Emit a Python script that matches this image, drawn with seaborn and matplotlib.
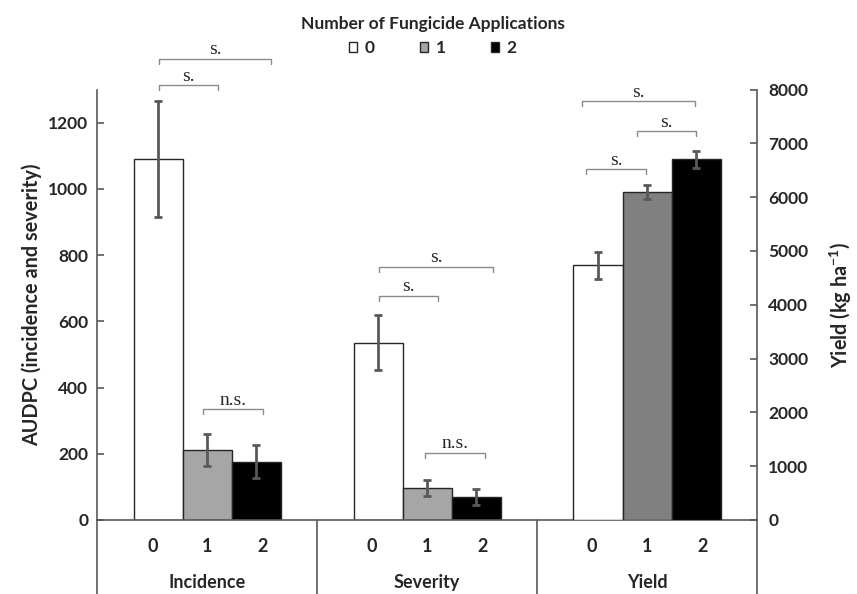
import pandas as pd
import seaborn as sns
import matplotlib.transforms as mtransforms
from matplotlib import pyplot as plt
from matplotlib.patches import Patch

# data
MEASURES = ['Incidence', 'Severity', 'Yield']
APPLICATIONS = ['0', '1', '2']
INCIDENCE = [1089, 211, 176]
INCIDENCE_ERR = [175, 49, 49]
SEVERITY = [536, 96, 70]
SEVERITY_ERR = [84, 25, 24]
YIELD = [4735, 6095, 6704]
YIELD_ERR = [250, 135, 160]

# significance brackets: measure, left offset, right offset, height (left axis units), label
BRACKETS = [
    ('Incidence', -0.22, 0.05, 1313, 's.'),
    ('Incidence', -0.22, 0.29, 1393, 's.'),
    ('Incidence', -0.02, 0.255, 334, 'n.s.'),
    ('Severity', -0.218, 0.047, 676, 's.'),
    ('Severity', -0.218, 0.297, 764, 's.'),
    ('Severity', -0.009, 0.262, 203, 'n.s.'),
    ('Yield', -0.276, -0.006, 1059, 's.'),
    ('Yield', -0.048, 0.220, 1174, 's.'),
    ('Yield', -0.298, 0.217, 1264, 's.'),
]

LEFT_COLORS = {'0': '#ffffff', '1': '#a6a6a6', '2': '#000000'}
RIGHT_COLORS = {'0': '#ffffff', '1': '#808080', '2': '#000000'}
AXIS_COLOR = '#595959'


def build_frame() -> pd.DataFrame:
    rows = []
    for measure, values, errors in [('Incidence', INCIDENCE, INCIDENCE_ERR),
                                    ('Severity', SEVERITY, SEVERITY_ERR),
                                    ('Yield', YIELD, YIELD_ERR)]:
        for app, value, err in zip(APPLICATIONS, values, errors):
            rows.append({'measure': measure, 'applications': app, 'value': value, 'err': err})
    return pd.DataFrame(rows)


def add_error_bars(ax, data: pd.DataFrame):
    """Draw error bars on top of the seaborn bars of one axis"""
    for container, app in zip(ax.containers, APPLICATIONS):
        for bar in container:
            x = bar.get_x() + bar.get_width() / 2
            measure = MEASURES[int(round(x))]
            row = data[(data.measure == measure) & (data.applications == app)].iloc[0]
            ax.errorbar(x, row.value, yerr=row.err, color=AXIS_COLOR, lw=2,
                        capsize=3, capthick=2, zorder=5)


sns.set_style('white')
plt.rcParams['font.family'] = ['Lato', 'DejaVu Sans']
plt.rcParams['font.weight'] = 'bold'
plt.rcParams['mathtext.fontset'] = 'custom'
plt.rcParams['mathtext.rm'] = 'Lato'
plt.rcParams['mathtext.bf'] = 'Lato:bold'

df = build_frame()
left_df = df[df.measure != 'Yield']
right_df = df[df.measure == 'Yield']

fig = plt.figure(figsize=(8.57, 5.94), dpi=100)
ax = fig.add_axes([0.1135, 0.1246, 0.770, 0.7247])

sns.barplot(data=left_df, x='measure', y='value', hue='applications', order=MEASURES,
            hue_order=APPLICATIONS, palette=LEFT_COLORS, width=0.67, errorbar=None,
            edgecolor='#262626', linewidth=1, legend=False, ax=ax)
add_error_bars(ax, left_df)

ax2 = ax.twinx()
sns.barplot(data=right_df, x='measure', y='value', hue='applications', order=MEASURES,
            hue_order=APPLICATIONS, palette=RIGHT_COLORS, width=0.67, errorbar=None,
            edgecolor='#262626', linewidth=1, legend=False, ax=ax2)
add_error_bars(ax2, right_df)

ax.set_xlim(-0.5, 2.5)
ax.set_ylim(0, 1300)
ax2.set_ylim(0, 8000)
ax.set_yticks(range(0, 1201, 200))
ax2.set_yticks(range(0, 8001, 1000))

# category ticks 0 / 1 / 2 under each group
tick_pos = [g + off for g in range(len(MEASURES)) for off in (-0.25, 0, 0.25)]
ax.set_xticks(tick_pos, APPLICATIONS * len(MEASURES))
ax.tick_params(axis='x', length=0, pad=13, labelsize=13)
ax2.tick_params(axis='x', length=0)
ax.tick_params(axis='y', direction='in', length=5, width=1.2, color=AXIS_COLOR,
               pad=6.5, labelsize=12.5)
ax2.tick_params(axis='y', direction='in', length=5, width=1.2, color=AXIS_COLOR,
                pad=8, labelsize=12.5)

ax.set_xlabel('')
ax2.set_xlabel('')
ax.set_ylabel('AUDPC (incidence and severity)', fontsize=14.3, fontweight='bold', labelpad=4)
ax2.set_ylabel(r'Yield (kg ha$^{\mathbf{-1}}$)', fontsize=14.3, fontweight='bold', labelpad=14)

for spine in ['top', 'right']:
    ax.spines[spine].set_visible(False)
for spine in ['top', 'left', 'bottom']:
    ax2.spines[spine].set_visible(False)
for spine in [ax.spines['left'], ax.spines['bottom'], ax2.spines['right']]:
    spine.set_color(AXIS_COLOR)
    spine.set_linewidth(1.2)

# group separators and group names below the axis
trans = mtransforms.blended_transform_factory(ax.transData, ax.transAxes)
pos = ax.get_position()
y_bottom = -pos.y0 / pos.height
for x in [-0.5, 0.5, 1.5, 2.5]:
    ax.plot([x, x], [0, y_bottom], transform=trans, clip_on=False,
            color=AXIS_COLOR, lw=1.2)
for g, name in enumerate(MEASURES):
    ax.text(g, -0.146, name, transform=trans, ha='center', va='center',
            fontsize=13, fontweight='bold')

# significance brackets
tick_h = 15
for measure, left, right, y, label in BRACKETS:
    g = MEASURES.index(measure)
    x1, x2 = g + left, g + right
    ax.plot([x1, x1, x2, x2], [y - tick_h, y, y, y - tick_h], color='#8c8c8c',
            lw=1, clip_on=False, zorder=6)
    ax.annotate(label, xy=((x1 + x2) / 2, y), xytext=(0, 0.5), textcoords='offset points',
                ha='center', va='bottom', fontfamily='Liberation Serif', fontsize=14,
                fontweight='normal', annotation_clip=False)

handles = [Patch(facecolor=LEFT_COLORS[a], edgecolor='#262626', linewidth=1) for a in APPLICATIONS]
fig.legend(handles, APPLICATIONS, title='Number of Fungicide Applications',
           loc='upper center', bbox_to_anchor=(0.505, 1.0), ncol=3, frameon=False,
           handlelength=0.45, handleheight=0.45, handletextpad=0.45, columnspacing=2.6,
           prop={'weight': 'bold', 'size': 12.5},
           title_fontproperties={'weight': 'bold', 'size': 12.5})

plt.savefig('out.png', dpi=100)
